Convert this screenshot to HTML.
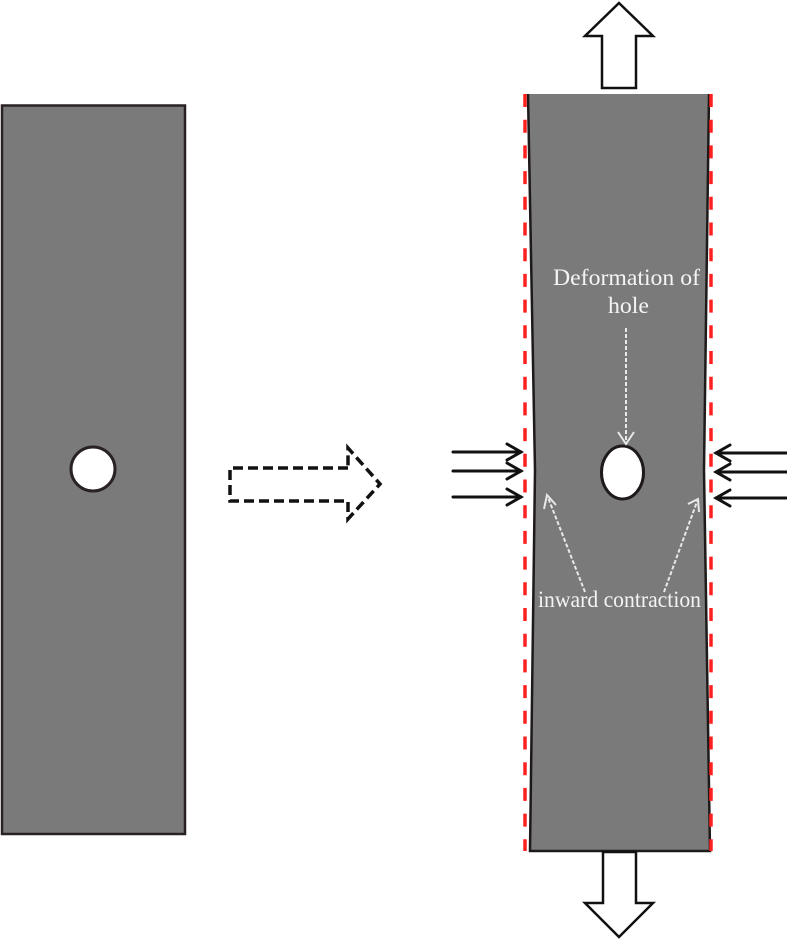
<!DOCTYPE html>
<html>
<head>
<meta charset="utf-8">
<style>
html,body{margin:0;padding:0;background:#fff;}
svg{display:block;}
</style>
</head>
<body>
<svg width="787" height="940" viewBox="0 0 787 940" xmlns="http://www.w3.org/2000/svg">
  <!-- Left plate -->
  <rect x="2" y="105.5" width="183" height="728.5" fill="#7a7a7a" stroke="#2a2222" stroke-width="2.5"/>
  <circle cx="93" cy="469" r="22" fill="#fff" stroke="#2a2222" stroke-width="3"/>

  <!-- Dashed transition arrow -->
  <path d="M348,468 L230,468 L230,501 L348,501 L348,519 L380,484 L348,448 Z" fill="none" stroke="#111" stroke-width="3.5" stroke-dasharray="10,5"/>

  <!-- Right plate (deformed) -->
  <polygon points="528,94 535,470 530,851 710,851 704,470 709,94" fill="#7a7a7a"/>
  <polyline points="528,94 535,470 530,851 710,851 704,470 709,94" fill="none" stroke="#1e1a1a" stroke-width="2.5"/>

  <!-- Red dashed original outlines -->
  <line x1="525" y1="94" x2="525" y2="851" stroke="#ff2020" stroke-width="3.5" stroke-dasharray="13,12.7"/>
  <line x1="711" y1="94" x2="711" y2="851" stroke="#ff2020" stroke-width="3.5" stroke-dasharray="13,12.7"/>

  <!-- Hole -->
  <ellipse cx="622.5" cy="472.5" rx="21" ry="26.5" fill="#fff" stroke="#1e1a1a" stroke-width="3"/>

  <!-- Top arrow -->
  <polygon points="619,3 653,36 636,36 636,88 602,88 602,36 585,36" fill="#fff" stroke="#111" stroke-width="2.5"/>
  <!-- Bottom arrow -->
  <polygon points="603,852 636,852 636,903 653,903 619,937 585,903 603,903" fill="#fff" stroke="#111" stroke-width="2.5"/>

  <!-- Left compression arrows -->
  <g stroke="#111" stroke-width="3" fill="none" stroke-linecap="round">
    <line x1="453" y1="452" x2="521" y2="452"/><polyline points="507,444 521,452 507,460"/>
    <line x1="453" y1="471" x2="521" y2="471"/><polyline points="507,463 521,471 507,479"/>
    <line x1="453" y1="497" x2="521" y2="497"/><polyline points="507,489 521,497 507,505"/>
  </g>
  <!-- Right compression arrows -->
  <g stroke="#111" stroke-width="3" fill="none" stroke-linecap="round">
    <line x1="716" y1="453" x2="787" y2="453"/><polyline points="730,445 716,453 730,461"/>
    <line x1="716" y1="472" x2="787" y2="472"/><polyline points="730,464 716,472 730,480"/>
    <line x1="716" y1="498" x2="787" y2="498"/><polyline points="730,490 716,498 730,506"/>
  </g>

  <!-- White dotted annotation arrows -->
  <g stroke="#e8e8e8" stroke-width="2" fill="none" stroke-dasharray="4,2">
    <line x1="626" y1="328" x2="626" y2="444"/>
    <line x1="585" y1="592" x2="547" y2="495"/>
    <line x1="664" y1="592" x2="698" y2="499"/>
  </g>
  <g stroke="#e8e8e8" stroke-width="2" fill="none">
    <polyline points="618,432 626,444 634,432"/>
    <polyline points="544,509 547,495 556,505"/>
    <polyline points="688,504 698,499 699,512"/>
  </g>

  <!-- Labels -->
  <g font-family="'Liberation Serif', serif" fill="#f4f4f4" font-size="23">
    <text x="553" y="285" textLength="147" lengthAdjust="spacingAndGlyphs">Deformation of</text>
    <text x="608" y="313" textLength="41" lengthAdjust="spacingAndGlyphs">hole</text>
    <text x="538" y="607" textLength="163" lengthAdjust="spacingAndGlyphs">inward contraction</text>
  </g>
</svg>
</body>
</html>
